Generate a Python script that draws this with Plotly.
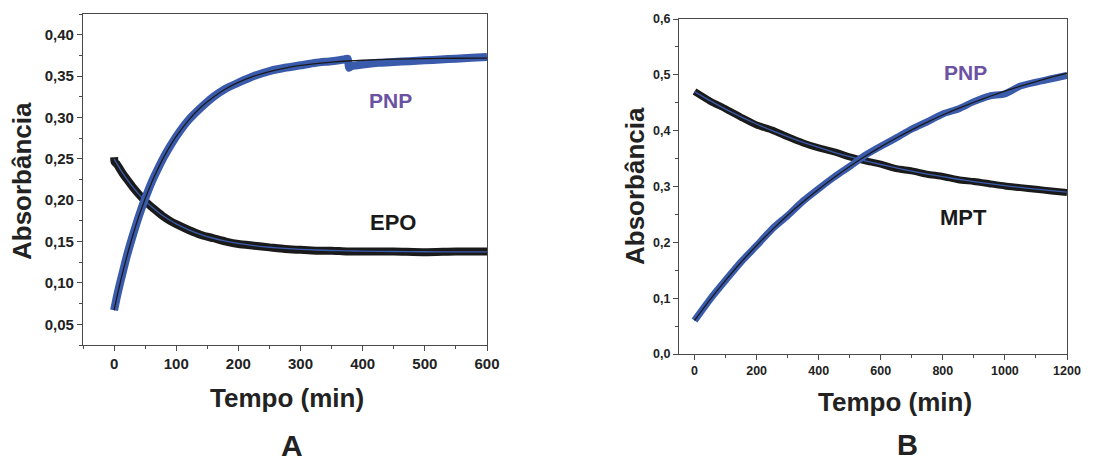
import plotly.graph_objects as go

# ---------------- Panel A ----------------
t_a_pnp = [0, 5, 10, 15, 20, 30, 40, 50, 60, 70, 80, 90, 100, 120, 140, 160, 180, 200,
           225, 250, 275, 300, 325, 350, 370, 376, 378, 382, 400, 425, 450, 475, 500,
           525, 550, 575, 600]
pnp_a_data = [0.067, 0.085, 0.101, 0.116, 0.131, 0.157, 0.181, 0.202, 0.221, 0.237, 0.252,
              0.265, 0.277, 0.297, 0.312, 0.325, 0.335, 0.342, 0.350, 0.356, 0.360, 0.363,
              0.366, 0.368, 0.370, 0.371, 0.360, 0.362, 0.364, 0.366, 0.367, 0.368, 0.369,
              0.370, 0.371, 0.372, 0.373]

t_a_fit = [0, 5, 10, 15, 20, 30, 40, 50, 60, 70, 80, 90, 100, 120, 140, 160, 180, 200,
           225, 250, 275, 300, 325, 350, 375, 400, 450, 500, 550, 600]
pnp_a_fit = [0.067, 0.0843, 0.1006, 0.116, 0.1305, 0.1571, 0.1808, 0.2018, 0.2206, 0.2372,
             0.2521, 0.2653, 0.2771, 0.2968, 0.3125, 0.3248, 0.3347, 0.3424, 0.3499, 0.3555,
             0.3597, 0.3628, 0.3651, 0.3669, 0.3682, 0.3691, 0.3704, 0.3711, 0.3715, 0.3717]
epo_a_fit = [0.25, 0.2435, 0.2373, 0.2315, 0.226, 0.216, 0.2071, 0.1992, 0.1923, 0.1861,
             0.1806, 0.1757, 0.1714, 0.1642, 0.1585, 0.154, 0.1505, 0.1477, 0.1451, 0.1431,
             0.1417, 0.1406, 0.1398, 0.1392, 0.1388, 0.1384, 0.138, 0.1377, 0.1376, 0.1376]

t_a_epo = [0, 1, 5, 10, 15, 20, 30, 40, 50, 60, 70, 80, 90, 100, 120, 140, 160, 180, 200,
           225, 250, 275, 300, 325, 350, 375, 400, 450, 500, 550, 600]
epo_a_data = [0.252, 0.246, 0.243, 0.237, 0.231, 0.226, 0.216, 0.207, 0.199, 0.192, 0.186,
              0.180, 0.175, 0.171, 0.164, 0.158, 0.154, 0.150, 0.147, 0.145, 0.143, 0.141,
              0.140, 0.139, 0.139, 0.138, 0.138, 0.138, 0.137, 0.138, 0.138]

# ---------------- Panel B ----------------
t_b = [0, 50, 100, 150, 200, 250, 300, 350, 400, 450, 500, 550, 600, 650, 700, 750, 800,
       850, 900, 950, 1000, 1050, 1100, 1150, 1200]
pnp_b_data = [0.060, 0.098, 0.132, 0.165, 0.194, 0.224, 0.248, 0.274, 0.296, 0.317, 0.336,
              0.356, 0.372, 0.387, 0.403, 0.416, 0.430, 0.439, 0.452, 0.462, 0.466, 0.480,
              0.487, 0.493, 0.499]
pnp_b_fit = [0.06, 0.0973, 0.1319, 0.1643, 0.1943, 0.2223, 0.2484, 0.2726, 0.2952, 0.3162,
             0.3358, 0.3541, 0.371, 0.3868, 0.4015, 0.4153, 0.428, 0.4399, 0.4509, 0.4612,
             0.4708, 0.4797, 0.488, 0.4957, 0.5029]
mpt_b_data = [0.470, 0.453, 0.439, 0.424, 0.410, 0.401, 0.389, 0.378, 0.369, 0.362, 0.353,
              0.346, 0.340, 0.332, 0.328, 0.322, 0.318, 0.312, 0.309, 0.305, 0.301, 0.298,
              0.295, 0.292, 0.289]
mpt_b_fit = [0.47, 0.4537, 0.4386, 0.4247, 0.4119, 0.4001, 0.3892, 0.3791, 0.3699, 0.3613,
             0.3534, 0.3461, 0.3394, 0.3333, 0.3276, 0.3223, 0.3175, 0.313, 0.3089, 0.3051,
             0.3016, 0.2983, 0.2953, 0.2926, 0.2901]

BLUE = "#3a5aab"
BLACK = "#1a1a1a"
PURPLE = "#6b52a3"
AXC = "#4a4a4a"
FONT = "Liberation Sans, Arial, sans-serif"

fig = go.Figure()


def line(x, y, color, width, xa, ya):
    fig.add_trace(go.Scatter(x=x, y=y, mode="lines",
                             line=dict(color=color, width=width, shape="spline", smoothing=0.6),
                             xaxis=xa, yaxis=ya, showlegend=False, hoverinfo="skip"))


# Panel A traces
line(t_a_epo, epo_a_data, BLACK, 8, "x", "y")
line(t_a_fit, epo_a_fit, BLUE, 1.3, "x", "y")
line(t_a_pnp, pnp_a_data, BLUE, 8, "x", "y")
line(t_a_fit, pnp_a_fit, BLACK, 1.3, "x", "y")

# Panel B traces
line(t_b, mpt_b_data, BLACK, 7, "x2", "y2")
line(t_b, mpt_b_fit, BLUE, 1.3, "x2", "y2")
line(t_b, pnp_b_data, BLUE, 7, "x2", "y2")
line(t_b, pnp_b_fit, BLACK, 1.3, "x2", "y2")

W, H = 1117, 464
OFF = 8  # page offset of the plot div


def px_x(p):
    return (p - OFF) / W


def px_y(p):
    return 1 - (p - OFF) / H


def ax(domain, rng, dtick, minor_dtick, tickfmt, size, anchor):
    return dict(domain=domain, range=rng, dtick=dtick, tickformat=tickfmt, anchor=anchor,
                showline=True, mirror=True, linecolor=AXC, linewidth=1.3,
                ticks="outside", ticklen=5, tickwidth=1.2, tickcolor=AXC,
                minor=dict(dtick=minor_dtick, ticks="outside", ticklen=3, tickwidth=1, tickcolor=AXC),
                showgrid=False, zeroline=False, automargin=False,
                tickfont=dict(family=FONT, size=size, color="#222", weight="bold"))


fig.update_layout(
    width=W, height=H, margin=dict(l=0, r=0, t=0, b=0, autoexpand=False),
    paper_bgcolor="white", plot_bgcolor="white", separators=",.",
    xaxis=ax([px_x(83), px_x(487)], [-50, 600], 100, 50, "d", 15, "y"),
    yaxis=ax([px_y(345), px_y(14)], [0.025, 0.425], 0.05, 0.025, ".2f", 15, "x"),
    xaxis2=ax([px_x(679), px_x(1067)], [-50, 1200], 200, 100, "d", 12.5, "y2"),
    yaxis2=ax([px_y(354), px_y(19)], [0, 0.6], 0.1, 0.05, ".1f", 12.5, "x2"),
)


def ann(text, x, y, size, color="#222", angle=0):
    fig.add_annotation(text=text, x=px_x(x), y=px_y(y), xref="paper", yref="paper",
                       showarrow=False, textangle=angle, xanchor="center", yanchor="middle",
                       font=dict(family=FONT, size=size, color=color, weight="bold"))


ann("Absorbância", 22, 181, 26, angle=-90)
ann("Absorbância", 635, 186, 26, angle=-90)
ann("Tempo (min)", 287, 398, 26)
ann("Tempo (min)", 895, 402, 26)
ann("A", 292, 445, 30)
ann("B", 907, 445, 29)
ann("PNP", 390, 100, 21, color=PURPLE)
ann("EPO", 393, 222, 22, color=BLACK)
ann("PNP", 965, 72, 21, color=PURPLE)
ann("MPT", 963, 217, 22, color=BLACK)

fig.write_html("out.html")
